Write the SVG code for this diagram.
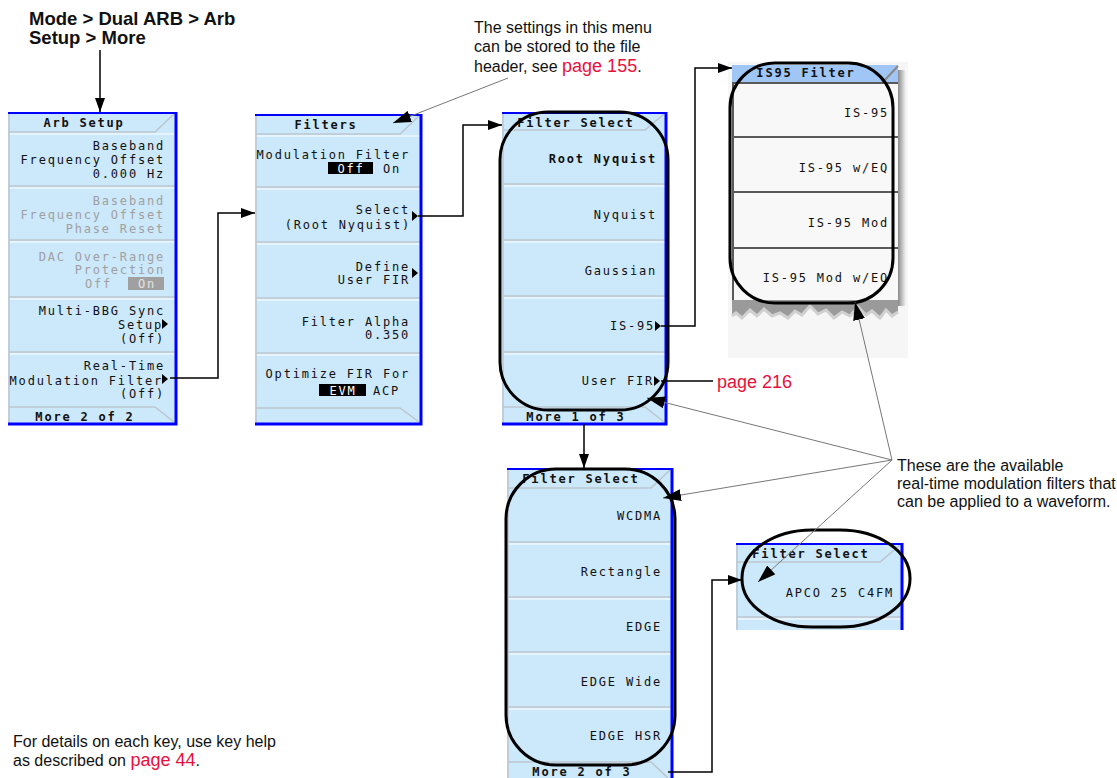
<svg xmlns="http://www.w3.org/2000/svg" width="1117" height="778" viewBox="0 0 1117 778">
<defs>
<style>
.m{font-family:"DejaVu Sans Mono","Liberation Mono",monospace;font-size:12px;letter-spacing:1.8px;fill:#111;text-anchor:end}
.b{font-weight:bold}
.c{text-anchor:middle}
.s{text-anchor:start}
.g{fill:#a0a0a0}
.key{fill:#cce8fb}
.sep{stroke:#bcc6ce;stroke-width:1.5;fill:none}
.hl{stroke:#ffffff;stroke-width:1;fill:none}
.blue{stroke:#0000ff;fill:none}
.t{font-family:"Liberation Sans",Arial,sans-serif;font-size:16px;fill:#111}
.red{fill:#e8103c;font-size:18px}
.con{stroke:#000;stroke-width:1.5;fill:none}
.ann{stroke:#777;stroke-width:1;fill:none}
.oval{stroke:#000;stroke-width:3;fill:none}
.is{fill:#f8f8f8}
.isep{stroke:#5a5a5a;stroke-width:2;fill:none}
</style>
<marker id="ah" viewBox="0 0 14 10" refX="14" refY="5" markerWidth="14" markerHeight="10" markerUnits="userSpaceOnUse" orient="auto"><path d="M0,0 L14,5 L0,10 z" fill="#000"/></marker>
<marker id="ab" viewBox="0 0 18 12" refX="18" refY="6" markerWidth="18" markerHeight="12" markerUnits="userSpaceOnUse" orient="auto"><path d="M0,0 L18,6 L0,12 z" fill="#000"/></marker>
<linearGradient id="sh" x1="0" x2="1" y1="0" y2="0"><stop offset="0" stop-color="#8a8a8a"/><stop offset="1" stop-color="#f6f6f6"/></linearGradient>
</defs>

<g id="heading">
<text class="t" x="29" y="25" style="font-size:18.5px;font-weight:bold">Mode &gt; Dual ARB &gt; Arb</text>
<text class="t" x="29" y="44" style="font-size:18.5px;font-weight:bold">Setup &gt; More</text>
</g>

<g id="note-top">
<text class="t" x="474" y="33">The settings in this menu</text>
<text class="t" x="474" y="52">can be stored to the file</text>
<text class="t" x="474" y="72">header, see <tspan class="red">page 155</tspan>.</text>
</g>

<g id="note-right">
<text class="t" x="897" y="471">These are the available</text>
<text class="t" x="897" y="489">real-time modulation filters that</text>
<text class="t" x="897" y="507">can be applied to a waveform.</text>
</g>

<g id="note-bottom">
<text class="t" x="13" y="747">For details on each key, use key help</text>
<text class="t" x="13" y="766">as described on <tspan class="red">page 44</tspan>.</text>
</g>

<text id="page216" class="t red" x="717" y="388">page 216</text>

<!-- Arb Setup -->
<g id="arb-setup">
<rect class="key" x="8" y="112" width="169" height="312"/>
<path class="sep" d="M9,132 H155 L174,114"/>
<path class="sep" d="M9,186 H176 M9,240 H176 M9,297 H176 M9,352 H176"/>
<path class="hl" d="M9,134 H176 M9,188 H176 M9,242 H176 M9,299 H176 M9,354 H176"/>
<path class="sep" d="M9,407 H155 L174,422"/>
<path class="sep" d="M9,113 V423"/>
<path class="blue" stroke-width="2" d="M8,113 H177"/>
<path class="blue" stroke-width="3" d="M176,112 V424 H8"/>
<text class="m b c" x="84" y="127">Arb Setup</text>
<text class="m" x="165" y="150">Baseband</text>
<text class="m" x="165" y="164">Frequency Offset</text>
<text class="m" x="165" y="178">0.000 Hz</text>
<text class="m g" x="165" y="205">Baseband</text>
<text class="m g" x="165" y="219">Frequency Offset</text>
<text class="m g" x="165" y="233">Phase Reset</text>
<text class="m g" x="165" y="261">DAC Over-Range</text>
<text class="m g" x="165" y="274">Protection</text>
<text class="m g" x="112" y="288">Off</text>
<rect x="128" y="277" width="36" height="13" fill="#a0a0a0"/>
<text class="m c" x="147" y="288" style="fill:#e4e4e4">On</text>
<text class="m" x="165" y="315">Multi-BBG Sync</text>
<text class="m" x="163" y="329">Setup</text>
<path d="M162,319 L168,324 L162,329 z" fill="#000"/>
<text class="m" x="165" y="343">(Off)</text>
<text class="m" x="165" y="370">Real-Time</text>
<text class="m" x="163" y="385">Modulation Filter</text>
<path d="M162,374 L168,379 L162,384 z" fill="#000"/>
<text class="m" x="165" y="398">(Off)</text>
<text class="m b c" x="85" y="421">More 2 of 2</text>
</g>

<!-- Filters -->
<g id="filters">
<rect class="key" x="255" y="114" width="167" height="310"/>
<path class="sep" d="M256,134 H400 L419,116"/>
<path class="sep" d="M256,187 H421 M256,242 H421 M256,298 H421 M256,353 H421"/>
<path class="hl" d="M256,136 H421 M256,189 H421 M256,244 H421 M256,300 H421 M256,355 H421"/>
<path class="sep" d="M256,408 H400 L419,422"/>
<path class="sep" d="M256,115 V423"/>
<path class="blue" stroke-width="2" d="M255,115 H422"/>
<path class="blue" stroke-width="3" d="M421,114 V424 H255"/>
<text class="m b c" x="326" y="129">Filters</text>
<text class="m" x="410" y="159">Modulation Filter</text>
<rect x="328" y="162" width="45" height="12" fill="#000"/>
<text class="m c" x="351" y="173" style="fill:#fff">Off</text>
<text class="m s" x="383" y="173">On</text>
<text class="m" x="410" y="214">Select</text>
<text class="m" x="411" y="229">(Root Nyquist)</text>
<path d="M412,211 L418,216 L412,221 z" fill="#000"/>
<text class="m" x="410" y="271">Define</text>
<text class="m" x="410" y="284">User FIR</text>
<path d="M412,268 L418,273 L412,278 z" fill="#000"/>
<text class="m" x="410" y="326">Filter Alpha</text>
<text class="m" x="410" y="339">0.350</text>
<text class="m" x="410" y="378">Optimize FIR For</text>
<rect x="319" y="384" width="47" height="12" fill="#000"/>
<text class="m c" x="343" y="395" style="fill:#fff">EVM</text>
<text class="m s" x="373" y="395">ACP</text>
</g>

<!-- Filter Select 1 -->
<g id="filter-select-1">
<rect class="key" x="502" y="112" width="165" height="312"/>
<path class="sep" d="M503,130 H645 L664,114"/>
<path class="sep" d="M503,184 H666 M503,240 H666 M503,296 H666 M503,352 H666"/>
<path class="hl" d="M503,186 H666 M503,242 H666 M503,298 H666 M503,354 H666"/>
<path class="sep" d="M503,407 H645 L664,422"/>
<path class="sep" d="M503,113 V423"/>
<path class="blue" stroke-width="2" d="M502,113 H667"/>
<path class="blue" stroke-width="3" d="M666,112 V424 H502"/>
<text class="m b c" x="576" y="127">Filter Select</text>
<text class="m b" x="657" y="163">Root Nyquist</text>
<text class="m" x="657" y="219">Nyquist</text>
<text class="m" x="657" y="275">Gaussian</text>
<text class="m" x="655" y="330">IS-95</text>
<path d="M655,321 L661,326 L655,331 z" fill="#000"/>
<text class="m" x="654" y="385">User FIR</text>
<path d="M654,376 L660,381 L654,386 z" fill="#000"/>
<text class="m b c" x="576" y="421">More 1 of 3</text>
<rect class="oval" x="500" y="112" width="168" height="298" rx="48" ry="48"/>
</g>

<!-- IS95 Filter -->
<g id="is95-filter">
<rect x="728" y="62" width="180" height="296" fill="#f6f6f6"/>
<rect x="898" y="70" width="8" height="236" fill="url(#sh)"/>
<rect class="is" x="732" y="65" width="166" height="237"/>
<rect x="732" y="65" width="166" height="17" fill="#a0c6f6"/>
<path d="M883,82 L898,66" stroke="#888" stroke-width="2" fill="none"/>
<path class="isep" d="M732,83 H898 M732,137 H898 M732,192 H898 M732,248 H898"/>
<path class="isep" d="M733,82 V302"/>
<path d="M732,300 H898 V312 L892,316 L886,310 L880,318 L872,311 L866,315 L858,307 L850,316 L842,312 L834,318 L826,310 L818,314 L810,306 L802,315 L795,311 L788,318 L780,313 L772,316 L764,309 L757,316 L750,310 L742,318 L736,313 L732,316 Z" fill="#9a9a9a"/>
<path d="M732,316 L736,313 L742,318 L750,310 L757,316 L764,309 L772,316 L780,313 L788,318 L795,311 L802,315 L810,306 L818,314 L826,310 L834,318 L842,312 L850,316 L858,307 L866,315 L872,311 L880,318 L886,310 L892,316 L898,312" stroke="#d0d0d0" stroke-width="3" fill="none"/>
<text class="m b c" x="806" y="77">IS95 Filter</text>
<text class="m" x="889" y="117">IS-95</text>
<text class="m" x="889" y="172">IS-95 w/EQ</text>
<text class="m" x="889" y="227">IS-95 Mod</text>
<text class="m" x="889" y="282">IS-95 Mod w/EQ</text>
<rect class="oval" x="730" y="63" width="163" height="240" rx="45" ry="45"/>
</g>

<!-- Filter Select 2 -->
<g id="filter-select-2">
<rect class="key" x="507" y="468" width="166" height="312"/>
<path class="sep" d="M508,488 H651 L670,470"/>
<path class="sep" d="M508,542 H672 M508,597 H672 M508,652 H672 M508,707 H672"/>
<path class="hl" d="M508,544 H672 M508,599 H672 M508,654 H672 M508,709 H672"/>
<path class="sep" d="M508,762 H651 L668,778"/>
<path class="sep" d="M508,469 V778"/>
<path class="blue" stroke-width="2" d="M507,469 H673"/>
<path class="blue" stroke-width="3" d="M672,468 V778"/>
<text class="m b c" x="581" y="483">Filter Select</text>
<text class="m" x="662" y="520">WCDMA</text>
<text class="m" x="662" y="576">Rectangle</text>
<text class="m" x="662" y="631">EDGE</text>
<text class="m" x="662" y="686">EDGE Wide</text>
<text class="m" x="662" y="740">EDGE HSR</text>
<text class="m b c" x="582" y="776">More 2 of 3</text>
<rect class="oval" x="506" y="469" width="169" height="296" rx="50" ry="50"/>
</g>

<!-- Filter Select 3 -->
<g id="filter-select-3">
<rect class="key" x="736" y="543" width="167" height="87"/>
<path class="sep" d="M737,562 H880 L900,545"/>
<path class="sep" d="M737,617 H902"/>
<path class="hl" d="M737,619 H902"/>
<path class="sep" d="M737,544 V630"/>
<path class="blue" stroke-width="2" d="M736,544 H903"/>
<path class="blue" stroke-width="3" d="M902,543 V630"/>
<text class="m b c" x="811" y="558">Filter Select</text>
<text class="m" x="894" y="597">APCO 25 C4FM</text>
<rect class="oval" x="742" y="530" width="168" height="97" rx="70" ry="48"/>
</g>

<g id="connectors">
<path class="con" d="M100,50 V112" marker-end="url(#ah)"/>
<path class="con" d="M170,378 H218 V213 H255" marker-end="url(#ah)"/>
<path class="con" d="M418,216 H463 V125 H502" marker-end="url(#ah)"/>
<path class="con" d="M661,326 H695 V68 H732" marker-end="url(#ah)"/>
<path class="con" d="M584,424 V468" marker-end="url(#ah)"/>
<path class="con" d="M668,772 H712 V580 H742" marker-end="url(#ah)"/>
<path class="con" d="M661,381 H713"/>
<path class="ann" d="M508,78 L393,123" marker-end="url(#ab)"/>
<path class="ann" d="M892,460 L855,302" marker-end="url(#ab)"/>
<path class="ann" d="M892,460 L647,398" marker-end="url(#ab)"/>
<path class="ann" d="M892,460 L663,498" marker-end="url(#ab)"/>
<path class="ann" d="M892,460 L758,582" marker-end="url(#ab)"/>
</g>
</svg>
